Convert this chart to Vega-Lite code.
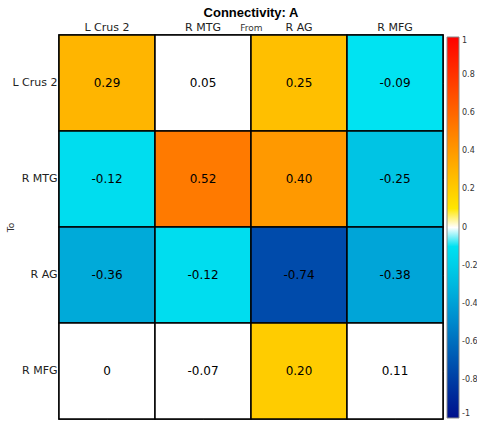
{
  "$schema": "https://vega.github.io/schema/vega-lite/v6.json",
  "width": 384,
  "height": 384,
  "autosize": {"type": "none"},
  "padding": {"left": 59, "top": 35, "right": 34, "bottom": 9},
  "background": "white",
  "title": {
    "text": "Connectivity: A",
    "font": "Liberation Sans",
    "fontSize": 13,
    "fontWeight": "bold",
    "color": "black",
    "anchor": "middle",
    "offset": 1
  },
  "config": {
    "view": {"stroke": "black", "strokeWidth": 1.5},
    "axis": {
      "labelFont": "DejaVu Sans",
      "labelFontSize": 11,
      "labelColor": "#222",
      "titleFont": "DejaVu Sans",
      "titleFontWeight": "normal",
      "titleFontSize": 9,
      "titleColor": "#333",
      "domain": false,
      "tickColor": "#999",
      "tickWidth": 1,
      "tickSize": -4,
      "labelAngle": 0,
      "zindex": 1
    }
  },
  "data": {
    "values": [
      {"from": "L Crus 2", "to": "L Crus 2", "value": 0.29, "label": "0.29", "sig": true},
      {"from": "R MTG", "to": "L Crus 2", "value": 0.05, "label": "0.05", "sig": false},
      {"from": "R AG", "to": "L Crus 2", "value": 0.25, "label": "0.25", "sig": true},
      {"from": "R MFG", "to": "L Crus 2", "value": -0.09, "label": "-0.09", "sig": true},
      {"from": "L Crus 2", "to": "R MTG", "value": -0.12, "label": "-0.12", "sig": true},
      {"from": "R MTG", "to": "R MTG", "value": 0.52, "label": "0.52", "sig": true},
      {"from": "R AG", "to": "R MTG", "value": 0.40, "label": "0.40", "sig": true},
      {"from": "R MFG", "to": "R MTG", "value": -0.25, "label": "-0.25", "sig": true},
      {"from": "L Crus 2", "to": "R AG", "value": -0.36, "label": "-0.36", "sig": true},
      {"from": "R MTG", "to": "R AG", "value": -0.12, "label": "-0.12", "sig": true},
      {"from": "R AG", "to": "R AG", "value": -0.74, "label": "-0.74", "sig": true},
      {"from": "R MFG", "to": "R AG", "value": -0.38, "label": "-0.38", "sig": true},
      {"from": "L Crus 2", "to": "R MFG", "value": 0, "label": "0", "sig": false},
      {"from": "R MTG", "to": "R MFG", "value": -0.07, "label": "-0.07", "sig": false},
      {"from": "R AG", "to": "R MFG", "value": 0.20, "label": "0.20", "sig": true},
      {"from": "R MFG", "to": "R MFG", "value": 0.11, "label": "0.11", "sig": false}
    ]
  },
  "layer": [
    {
      "mark": {"type": "rect", "stroke": "black", "strokeWidth": 1.5},
      "encoding": {
        "x": {
          "field": "from",
          "type": "nominal",
          "sort": ["L Crus 2", "R MTG", "R AG", "R MFG"],
          "scale": {"paddingInner": 0, "paddingOuter": 0},
          "axis": {"orient": "top", "title": "From", "labelPadding": 7, "titleY": -5, "titleBaseline": "alphabetic", "titlePadding": 0}
        },
        "y": {
          "field": "to",
          "type": "nominal",
          "sort": ["L Crus 2", "R MTG", "R AG", "R MFG"],
          "scale": {"paddingInner": 0, "paddingOuter": 0},
          "axis": {"orient": "left", "title": "To", "labelPadding": 6, "titleX": -49, "titleY": 192, "titleAngle": -90, "titleBaseline": "middle"}
        },
        "fill": {
          "condition": {"test": "!datum.sig", "value": "#ffffff"},
          "field": "value",
          "type": "quantitative",
          "scale": {
            "domain": [-1, -0.75, -0.5, -0.25, -0.02, 0, 0.0001, 1],
            "range": ["#00108C", "#0048AA", "#0088CC", "#00C4E4", "#00F0F8", "#FFFFFF", "#FFFF00", "#FF0000"],
            "interpolate": "rgb"
          },
          "legend": {
            "orient": "none",
            "legendX": 388,
            "legendY": 2,
            "direction": "vertical",
            "title": null,
            "gradientLength": 381,
            "gradientThickness": 12,
            "gradientStrokeColor": "#888",
            "gradientStrokeWidth": 1,
            "values": [-1, -0.8, -0.6, -0.4, -0.2, 0, 0.2, 0.4, 0.6, 0.8, 1],
            "labelExpr": "'' + datum.value",
            "labelFont": "DejaVu Sans",
            "labelFontSize": 8,
            "labelColor": "#333",
            "labelOffset": 3,
            "labelOverlap": false
          }
        }
      }
    },
    {
      "mark": {"type": "text", "font": "DejaVu Sans", "fontSize": 12, "color": "black"},
      "encoding": {
        "x": {
          "field": "from",
          "type": "nominal",
          "sort": ["L Crus 2", "R MTG", "R AG", "R MFG"],
          "axis": {"orient": "bottom", "labels": false, "title": null}
        },
        "y": {
          "field": "to",
          "type": "nominal",
          "sort": ["L Crus 2", "R MTG", "R AG", "R MFG"],
          "axis": {"orient": "right", "labels": false, "title": null}
        },
        "text": {"field": "label"}
      }
    }
  ],
  "resolve": {"axis": {"x": "independent", "y": "independent"}}
}
